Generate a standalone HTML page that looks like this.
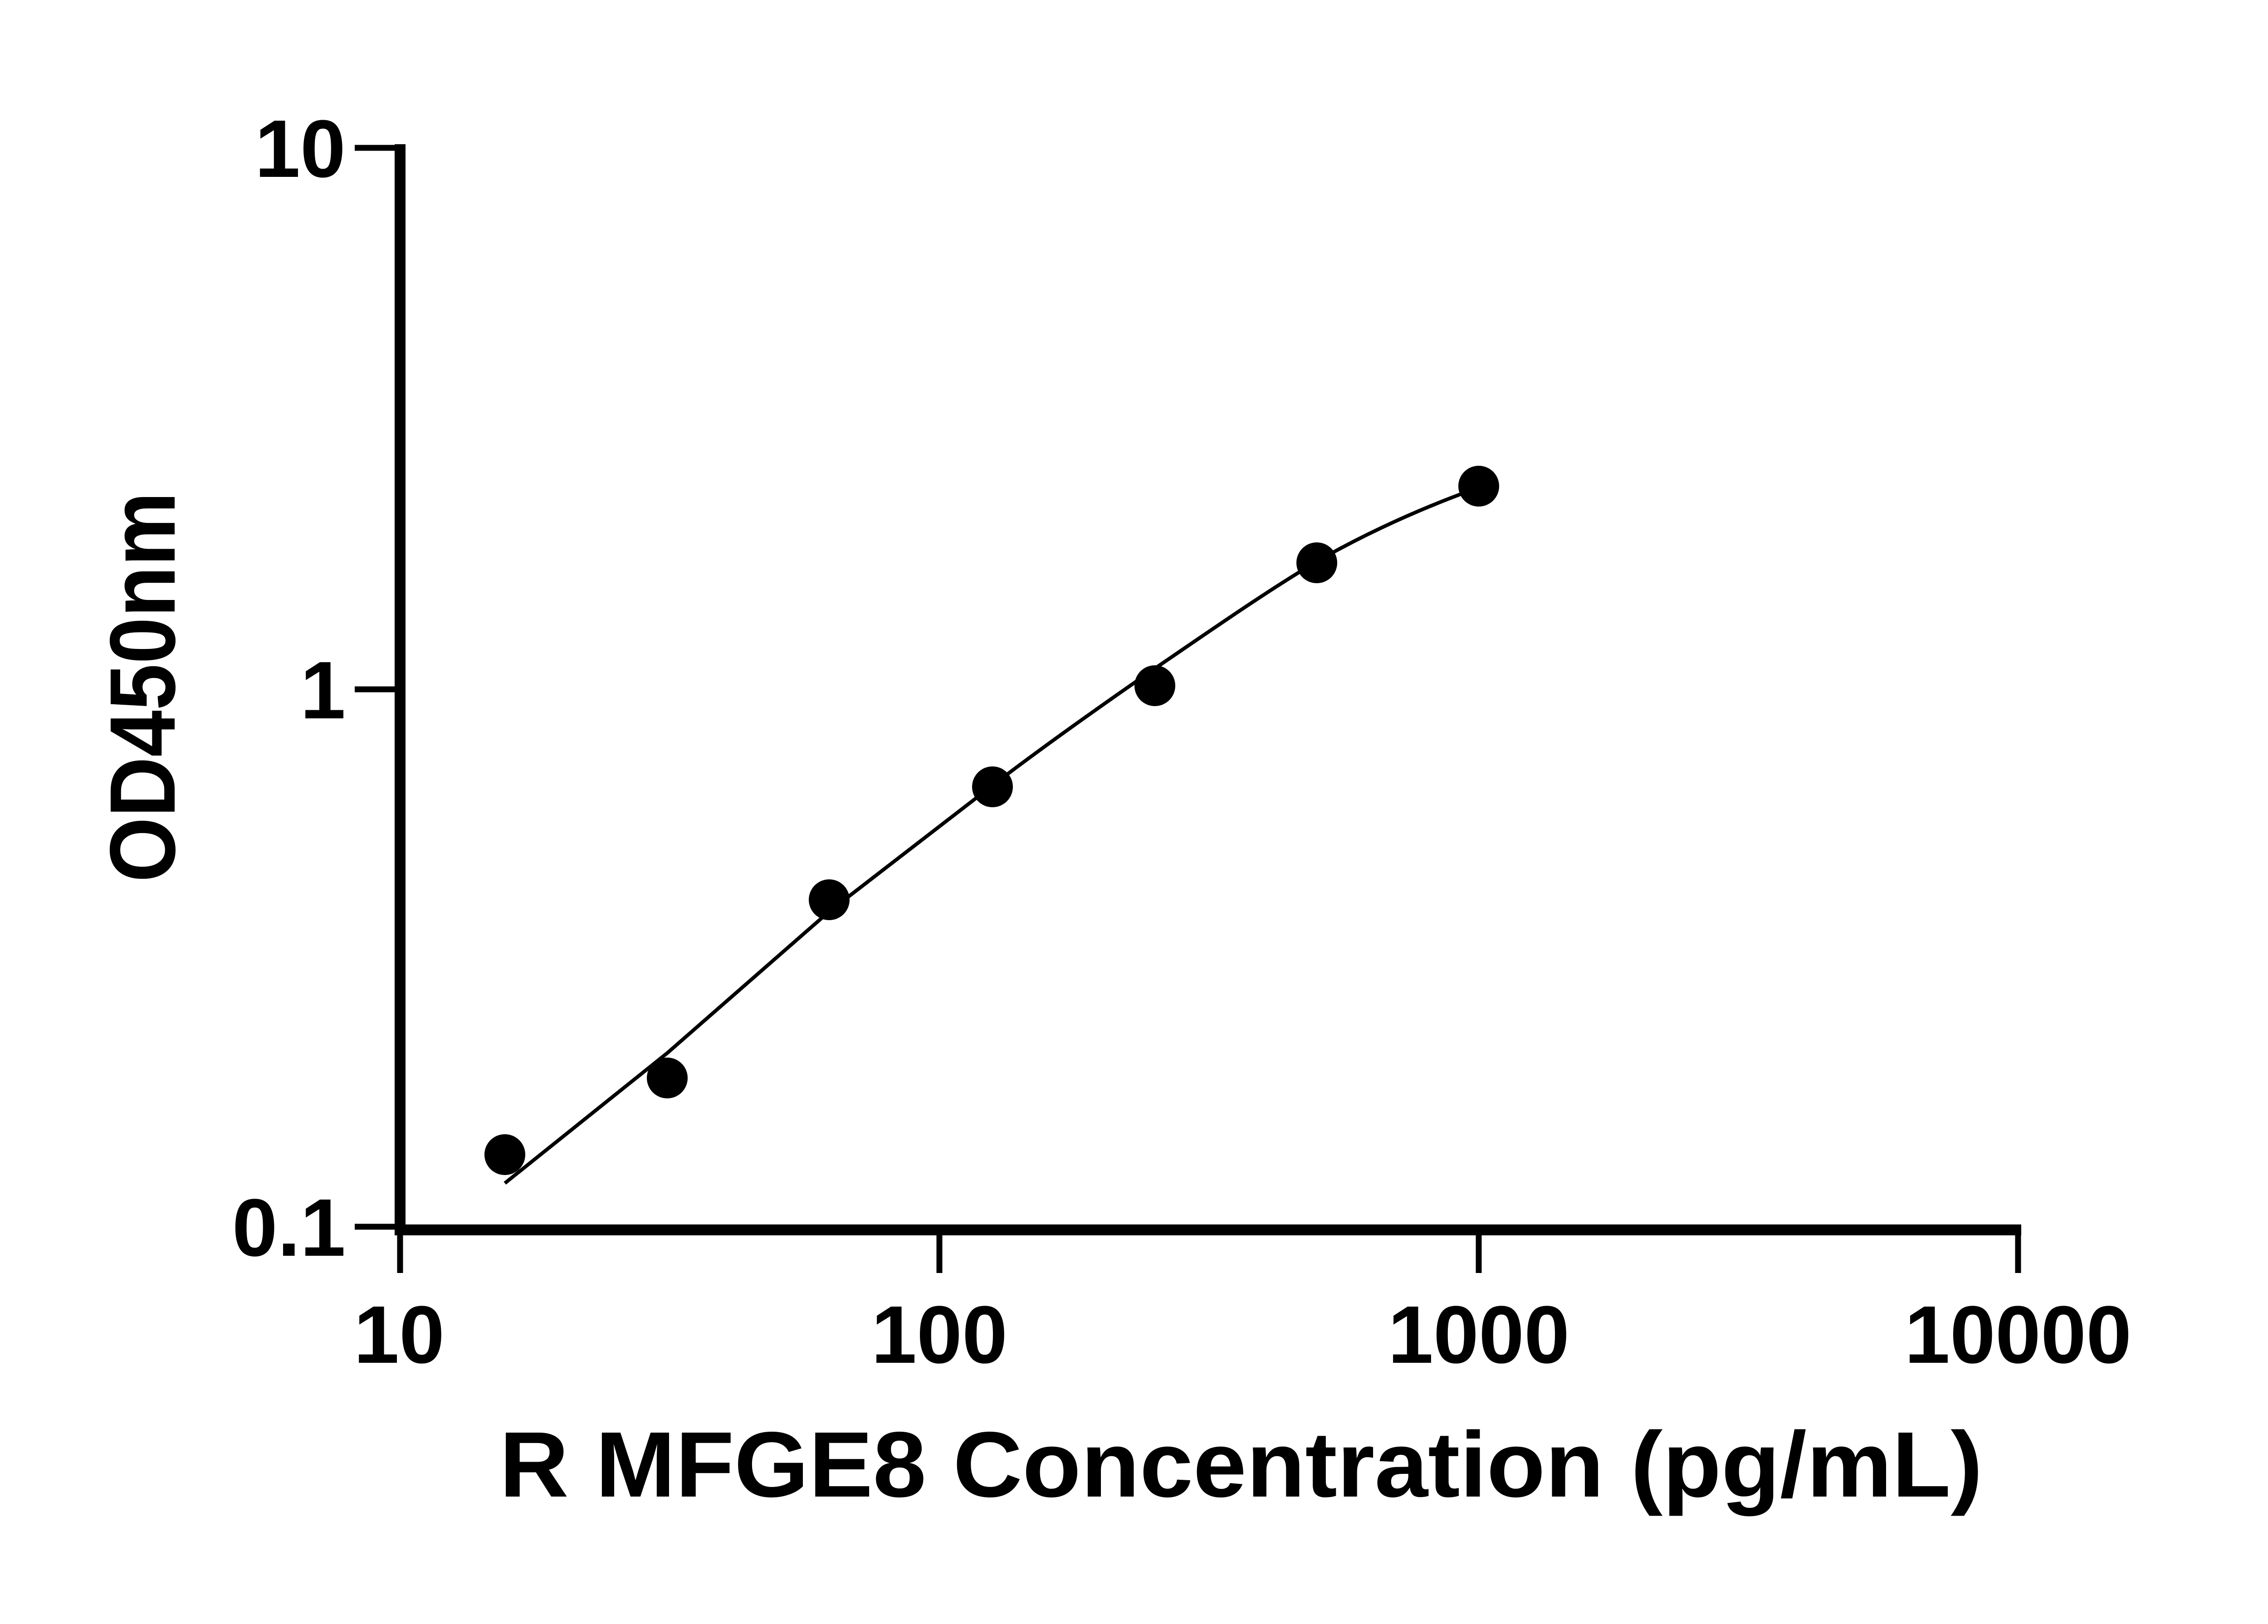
<!DOCTYPE html>
<html><head><meta charset="utf-8"><style>html,body{margin:0;padding:0;background:#fff}</style></head>
<body>
<svg width="5046" height="3576" viewBox="0 0 5046 3576" xmlns="http://www.w3.org/2000/svg" font-family="'Liberation Sans', sans-serif" font-weight="bold">
<rect width="5046" height="3576" fill="#fff"/>
<!-- axes -->
<line x1="882" y1="318" x2="882" y2="2724" stroke="#000" stroke-width="24"/>
<line x1="870" y1="2712" x2="4456" y2="2712" stroke="#000" stroke-width="24"/>
<g stroke="#000" stroke-width="13">
<line x1="782" y1="326" x2="882" y2="326"/>
<line x1="782" y1="1520" x2="882" y2="1520"/>
<line x1="782" y1="2705" x2="882" y2="2705"/>
<line x1="882" y1="2712" x2="882" y2="2807"/>
<line x1="2071" y1="2712" x2="2071" y2="2807"/>
<line x1="3260" y1="2712" x2="3260" y2="2807"/>
<line x1="4449" y1="2712" x2="4449" y2="2807"/>
</g>
<g font-size="180" text-anchor="end">
<text x="762" y="390">10</text>
<text x="762" y="1584">1</text>
<text x="762" y="2769">0.1</text>
</g>
<g font-size="180" text-anchor="middle">
<text x="880" y="3005">10</text>
<text x="2071" y="3005">100</text>
<text x="3260" y="3005">1000</text>
<text x="4449" y="3005">10000</text>
</g>
<text x="2736" y="3300" font-size="205" text-anchor="middle" textLength="3270" lengthAdjust="spacingAndGlyphs">R MFGE8 Concentration (pg/mL)</text>
<text transform="translate(385,1515) rotate(-90)" font-size="205" text-anchor="middle" textLength="861" lengthAdjust="spacingAndGlyphs">OD450nm</text>
<path d="M1113,2609 L1471,2322 L1828,2010 L2188,1732 C2306,1642 2425,1558 2546,1474 C2665,1393 2783,1310 2903,1238 C3022,1170 3140,1118 3260,1075" fill="none" stroke="#000" stroke-width="8"/>
<g fill="#000">
<circle cx="1113" cy="2546" r="45"/>
<circle cx="1471" cy="2377" r="45"/>
<circle cx="1828" cy="1984" r="45"/>
<circle cx="2188" cy="1735" r="45"/>
<circle cx="2546" cy="1512" r="45"/>
<circle cx="2903" cy="1241" r="45"/>
<circle cx="3260" cy="1072" r="45"/>
</g>
</svg>
</body></html>
